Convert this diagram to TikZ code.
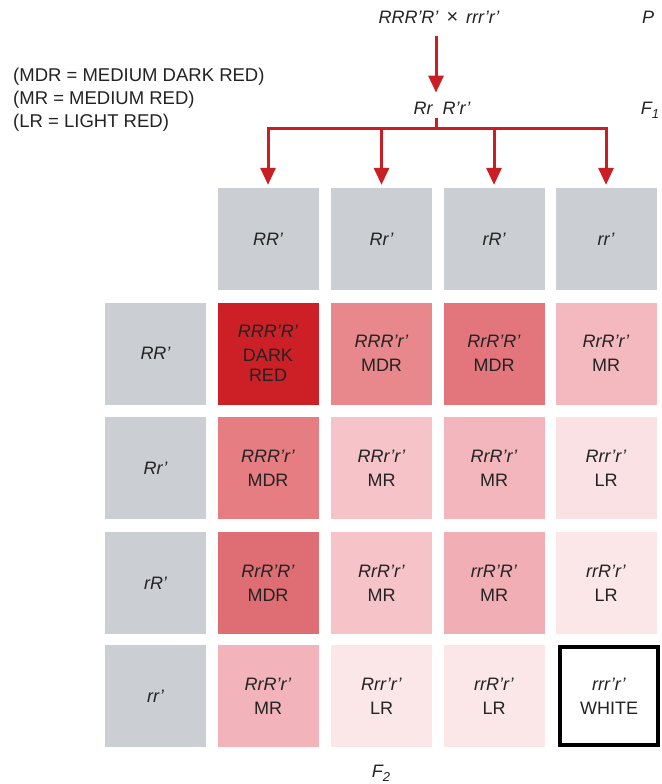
\documentclass[tikz,border=0pt]{standalone}
\usepackage{fontspec}
\setmainfont{Liberation Sans}
\usetikzlibrary{arrows.meta}
\definecolor{txt}{RGB}{35,35,35}
\definecolor{gbox}{RGB}{203,206,210}
\definecolor{arrred}{RGB}{200,30,36}
\definecolor{dred}{RGB}{204,32,38}
\definecolor{mdra}{RGB}{232,135,140}
\definecolor{mdrb}{RGB}{226,118,124}
\definecolor{mdrc}{RGB}{230,125,130}
\definecolor{mdrd}{RGB}{222,110,116}
\definecolor{mra}{RGB}{243,185,190}
\definecolor{mrb}{RGB}{245,195,200}
\definecolor{mrc}{RGB}{243,182,188}
\definecolor{mrd}{RGB}{241,175,181}
\definecolor{mre}{RGB}{242,180,186}
\definecolor{lra}{RGB}{250,225,228}
\definecolor{lrb}{RGB}{251,230,232}
\newcommand{\gt}[2]{\textit{#1}\\[4pt]#2}
\newcommand{\subsc}[1]{\raisebox{-4pt}{\fontsize{13}{13}\selectfont #1}}
\begin{document}
\begin{tikzpicture}[x=1pt,y=-1pt,
  cell/.style={minimum width=101pt,minimum height=102pt,inner sep=0pt,align=center,text=txt,
    font=\fontsize{18}{20}\selectfont},
  hdr/.style={cell,fill=gbox,font=\fontsize{18}{20}\selectfont\itshape},
  redln/.style={draw=arrred,line width=3pt},
  arr/.style={redln,-{Triangle[width=15pt,length=17pt]}},
  lbl/.style={font=\fontsize{18.5}{22}\selectfont,text=txt,inner sep=0pt},
  ilbl/.style={font=\fontsize{18}{22}\selectfont\itshape,text=txt,inner sep=0pt}]
\useasboundingbox[fill=white] (0,0) rectangle (661,784);

% legend
\node[lbl,anchor=west] (leg1) at (13,77) {(MDR = MEDIUM DARK RED)};
\node[lbl,anchor=west] (leg2) at (13,100) {(MR = MEDIUM RED)};
\node[lbl,anchor=west] (leg3) at (13,123) {(LR = LIGHT RED)};

% generations
\node[ilbl] (cross) at (439,17) {RRR'R'\ \,{\upshape\fontsize{20}{20}\selectfont ×}\ \,rrr'r'};
\node[ilbl] (gp) at (648,17) {P};
\node[ilbl] (f1) at (442,108) {Rr\ \ R'r'};
\node[ilbl] (gf1) at (650,110) {F\subsc{1}};
\node[ilbl] (gf2) at (381,773) {F\subsc{2}};

% header row
\node[hdr] (h1) at (268,239) {RR'};
\node[hdr] (h2) at (381.5,239) {Rr'};
\node[hdr] (h3) at (494,239) {rR'};
\node[hdr] (h4) at (606,239) {rr'};
% left column
\node[hdr] (v1) at (155.5,353.5) {RR'};
\node[hdr] (v2) at (155.5,468) {Rr'};
\node[hdr] (v3) at (155.5,583) {rR'};
\node[hdr] (v4) at (155.5,696) {rr'};

% row 1
\node[cell,fill=dred] (c11) at (268,353.5) {\textit{RRR'R'}\\[4pt]DARK\\RED};
\node[cell,fill=mdra] (c12) at (381.5,353.5) {\gt{RRR'r'}{MDR}};
\node[cell,fill=mdrb] (c13) at (494,353.5) {\gt{RrR'R'}{MDR}};
\node[cell,fill=mra] (c14) at (606,353.5) {\gt{RrR'r'}{MR}};
% row 2
\node[cell,fill=mdrc] (c21) at (268,468) {\gt{RRR'r'}{MDR}};
\node[cell,fill=mrb] (c22) at (381.5,468) {\gt{RRr'r'}{MR}};
\node[cell,fill=mrc] (c23) at (494,468) {\gt{RrR'r'}{MR}};
\node[cell,fill=lra] (c24) at (606,468) {\gt{Rrr'r'}{LR}};
% row 3
\node[cell,fill=mdrd] (c31) at (268,583) {\gt{RrR'R'}{MDR}};
\node[cell,fill=mrb] (c32) at (381.5,583) {\gt{RrR'r'}{MR}};
\node[cell,fill=mrd] (c33) at (494,583) {\gt{rrR'R'}{MR}};
\node[cell,fill=lrb] (c34) at (606,583) {\gt{rrR'r'}{LR}};
% row 4
\node[cell,fill=mre] (c41) at (268,696) {\gt{RrR'r'}{MR}};
\node[cell,fill=lrb] (c42) at (381.5,696) {\gt{Rrr'r'}{LR}};
\node[cell,fill=lrb] (c43) at (494,696) {\gt{rrR'r'}{LR}};
\node[cell,draw=black,line width=4pt,minimum width=98pt,minimum height=98pt,fill=white] (c44) at (609,696) {\gt{rrr'r'}{WHITE}};

% connectors
\coordinate (j) at (436,128);
\draw[arr,shorten <=13pt,shorten >=9pt] (cross.south -| j) -- (f1.north -| j);
\draw[redln,shorten <=4pt] (f1.south -| j) -- (j);
\foreach \h in {h1,h2,h3,h4}
  \draw[arr,shorten >=3pt] (j) -| (\h.north);
\end{tikzpicture}
\end{document}
